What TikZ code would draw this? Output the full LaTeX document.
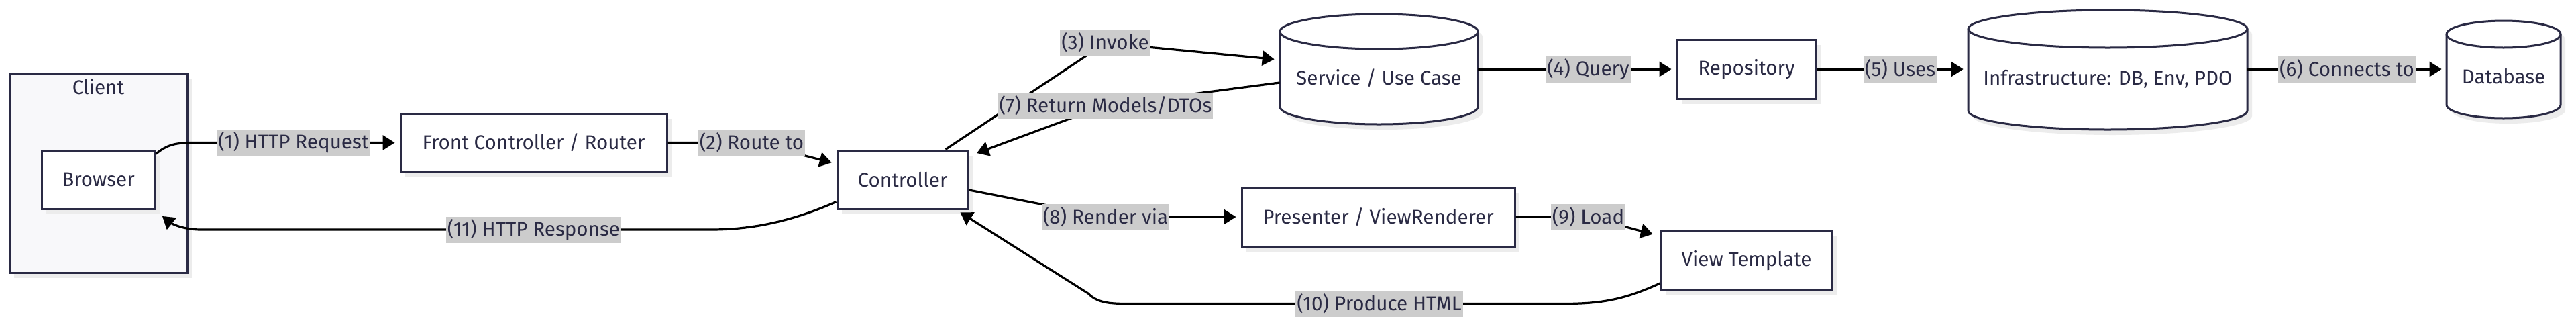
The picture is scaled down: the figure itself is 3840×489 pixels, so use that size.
\documentclass[tikz,border=0pt]{standalone}
\usepackage{fontspec}
\setmainfont{Fira Sans}
\usetikzlibrary{arrows.meta,calc,shadows}
\definecolor{bord}{HTML}{2A2A44}
\definecolor{txt}{HTML}{2A2A44}
\definecolor{lblbg}{HTML}{CCCCCC}
\definecolor{shad}{HTML}{ECECEC}
\definecolor{clientbg}{HTML}{F8F8FA}
\tikzset{
  base/.style={font=\fontsize{14.8}{17}\selectfont, text=txt},
  box/.style={base, draw=bord, line width=1.5pt, fill=white, inner sep=0pt, minimum height=43.5pt,
    drop shadow={shadow xshift=3.5pt,shadow yshift=-4pt,fill=shad,opacity=1}},
  lbl/.style={base, fill=lblbg, inner xsep=1pt, inner ysep=0pt, minimum height=19.5pt},
  conn/.style={line width=1.6pt, -{Triangle[length=9pt,width=11pt]}, black, shorten >=3.5pt},
  cylline/.style={draw=bord, line width=1.5pt, fill=white},
}
% name, cx, cy, w, h, ry (px), text
\newcommand\mkcyl[7]{%
  \fill[shad] ({#2-#4/2+7},{#3-#5/2+#6+8}) -- ({#2-#4/2+7},{#3+#5/2-#6+8})
    arc[start angle=180,end angle=360,x radius={(#4)*0.25pt},y radius={(#6)*0.5pt}]
    -- ({#2+#4/2+7},{#3-#5/2+#6+8})
    arc[start angle=0,end angle=180,x radius={(#4)*0.25pt},y radius={(#6)*0.5pt}] -- cycle;
  \draw[cylline] ({#2-#4/2},{#3-#5/2+#6}) -- ({#2-#4/2},{#3+#5/2-#6})
    arc[start angle=180,end angle=360,x radius={(#4)*0.25pt},y radius={(#6)*0.5pt}]
    -- ({#2+#4/2},{#3-#5/2+#6})
    arc[start angle=0,end angle=180,x radius={(#4)*0.25pt},y radius={(#6)*0.5pt}] -- cycle;
  \draw[cylline, fill=none] ({#2-#4/2},{#3-#5/2+#6})
    arc[start angle=180,end angle=360,x radius={(#4)*0.25pt},y radius={(#6)*0.5pt}];
  \node[inner sep=0pt, minimum width={(#4)*0.5pt}, minimum height={(#5)*0.5pt}] (#1) at (#2,#3) {};
  \node[base] (#1text) at (#2,{#3+#6/2}) {#7};
}
\begin{document}
\begin{tikzpicture}[x=0.5pt,y=-0.5pt]
\fill[white] (0,0) rectangle (3840,489);
\useasboundingbox (0,0) rectangle (3840,489);

% Client group
\node[box, fill=clientbg, minimum width=132.5pt, minimum height=148.5pt] (client) at (146.5,257.5) {};
\node[base] (clienttitle) at (146.5,129) {Client};
\node[box, minimum width=84.5pt] (browser) at (146.5,267.5) {Browser};

% Rectangular nodes
\node[box, minimum width=198.5pt] (front) at (795.5,212.5) {Front Controller / Router};
\node[box, minimum width=97.5pt] (controller) at (1345.5,267.5) {Controller};
\node[box, minimum width=103.5pt, minimum height=44pt] (repo) at (2603.5,103) {Repository};
\node[box, minimum width=203.5pt, minimum height=44pt] (presenter) at (2054.5,323) {Presenter / ViewRenderer};
\node[box, minimum width=127.5pt, minimum height=44pt] (view) at (2603.5,388) {View Template};

% Cylinders
\mkcyl{service}{2055.5}{103}{295}{164}{26}{Service / Use Case}
\mkcyl{infra}{3142}{104}{416}{178}{28}{Infrastructure: DB, Env, PDO}
\mkcyl{database}{3732}{103.5}{170}{145}{20}{Database}

% Connectors
\draw[conn] (browser.24) .. controls (250,215) and (262,212.5) .. (290,212.5) -- (front.west);
\draw[conn] (front.east) -- (1090,212.5) .. controls (1125,212.5) .. ($(controller.west)+(0,-23.5)$);
\draw[conn] ($(controller.north)+(64,0)$) -- (1648,64) -- ($(service.west)+(-1,-14)$);
\draw[conn] (service.east) -- (repo.west);
\draw[conn] (repo.east) -- (infra.west |- repo.east);
\draw[conn] (infra.east |- repo.east) -- (database.west |- repo.east);
\draw[conn] ($(service.west)+(0,20)$) -- (1648,157) -- ($(controller.north east)+(5,8)$);
\draw[conn] ($(controller.east)+(0,15.5)$) -- (1648,323) -- (presenter.west);
\draw[conn] (presenter.east) -- (2367.5,323) -- ($(view.north west)+(-4,8)$);
\draw[conn] ($(view.west)+(0,34)$) .. controls (2420,447) and (2385,452.5) .. (2330,452.5) -- (1680,452.5)
  .. controls (1650,452.5) and (1635,450) .. (1622,437) -- ($(controller.south east)+(-19,0)$);
\draw[conn] ($(controller.west)+(0,33)$) .. controls (1180,330) and (1120,342) .. (1060,342) -- (300,342)
  .. controls (268,342) and (252,330) .. ($(browser.south east)+(4,5)$);

% Labels
\node[lbl] (l1) at (437.5,212.5) {(1) HTTP Request};
\node[lbl] (l2) at (1120.5,212.5) {(2) Route to};
\node[lbl] (l3) at (1647.5,63.5) {(3) Invoke};
\node[lbl] (l4) at (2367.5,103) {(4) Query};
\node[lbl] (l5) at (2832.5,103) {(5) Uses};
\node[lbl] (l6) at (3498.5,103) {(6) Connects to};
\node[lbl] (l7) at (1648,157.5) {(7) Return Models/DTOs};
\node[lbl] (l8) at (1648,323) {(8) Render via};
\node[lbl] (l9) at (2367.5,323) {(9) Load};
\node[lbl] (l10) at (2056,452.5) {(10) Produce HTML};
\node[lbl] (l11) at (795.5,342) {(11) HTTP Response};
\end{tikzpicture}
\end{document}
